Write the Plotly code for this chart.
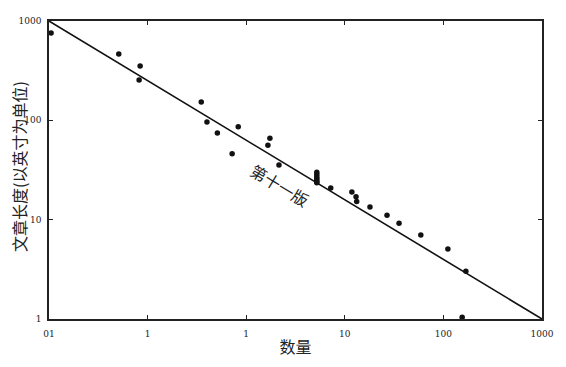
import math
import plotly.graph_objects as go

# data
pts_x = [0.0105, 0.051, 0.084, 0.082, 0.35, 0.40, 0.51, 0.83, 0.72, 1.74, 1.66, 2.15,
         5.2, 5.2, 5.2, 5.2, 5.2, 5.2, 5.2,
         7.2, 11.8, 13.0, 13.2, 18.0, 26.8, 35.5, 59.0, 111, 169, 155]
pts_y = [757, 466, 352, 255, 153, 96, 74.5, 86, 46, 66, 56, 35.5,
         30, 28.5, 27, 26, 25, 24, 23.5,
         20.8, 19.0, 17.0, 15.2, 13.4, 11.1, 9.2, 7.0, 5.06, 3.03, 1.04]
line_x = [0.01, 1000]
line_y = [1000, 1]
x_tickvals = [0.01, 0.1, 1, 10, 100, 1000]
x_ticktext = ["01", "1", "1", "10", "100", "1000"]
y_tickvals = [1, 10, 100, 1000]
y_ticktext = ["1", "10", "100", "1000"]
label_text = "第十一版"
label_pos = (2.2, 22.5)
x_title = "数量"
y_title = "文章长度(以英寸为单位)"

W, H = 566, 367
L, R, T, B = 49, 24, 21, 48

fig = go.Figure()
fig.add_trace(go.Scatter(x=line_x, y=line_y, mode="lines",
                         line=dict(color="#111", width=1.6), showlegend=False))
fig.add_trace(go.Scatter(x=pts_x, y=pts_y, mode="markers",
                         marker=dict(color="#111", size=5.5), showlegend=False))

# annotations on log axes are positioned in log10 units
fig.add_annotation(x=math.log10(label_pos[0]), y=math.log10(label_pos[1]), xref="x", yref="y",
                   text=label_text, showarrow=False, textangle=31,
                   font=dict(family="Noto Sans CJK SC", size=16, color="#222"))

# y-axis title placed as a rotated annotation for precise placement
pw, ph = W - L - R, H - T - B
fig.add_annotation(xref="paper", yref="paper", x=(19 - L) / pw, y=(H - B - 167) / ph,
                   text=y_title, showarrow=False, textangle=-90,
                   xanchor="center", yanchor="middle",
                   font=dict(family="Noto Sans CJK SC", size=16, color="#222"))

axis_common = dict(type="log", showgrid=False, zeroline=False, ticks="inside",
                   ticklen=4, tickwidth=1, tickcolor="#222", showline=True,
                   linecolor="#222", linewidth=1.6, mirror="ticks",
                   tickfont=dict(family="DejaVu Serif", size=9, color="#222"))

fig.update_xaxes(range=[-2, 3], tickvals=x_tickvals, ticktext=x_ticktext,
                 ticklabelstandoff=5,
                 title=dict(text=x_title, font=dict(family="Noto Sans CJK SC", size=16, color="#222"),
                            standoff=4), **axis_common)
fig.update_yaxes(range=[0, 3], tickvals=y_tickvals, ticktext=y_ticktext,
                 ticklabelstandoff=4, **axis_common)

fig.update_layout(width=W, height=H, margin=dict(l=L, r=R, t=T, b=B),
                  plot_bgcolor="white", paper_bgcolor="white")
fig.write_html("out.html")
